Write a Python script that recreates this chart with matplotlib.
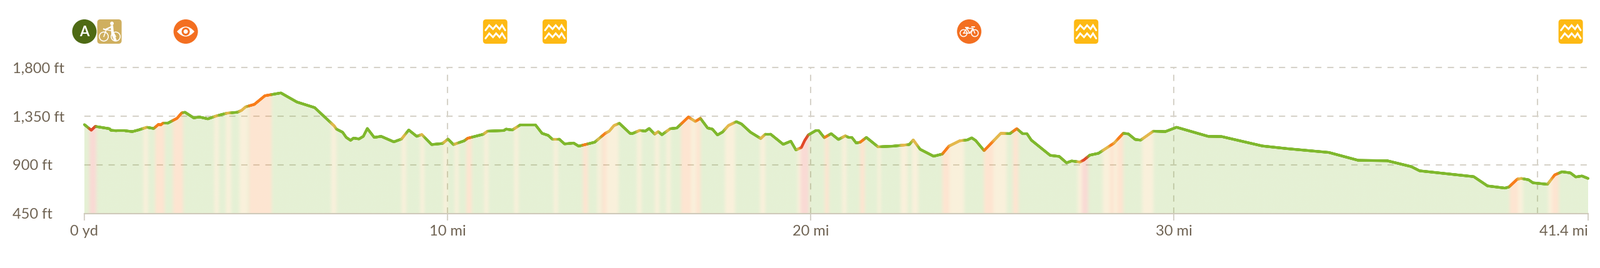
import matplotlib
matplotlib.use('Agg')
import matplotlib.pyplot as plt
import numpy as np
from matplotlib.collections import LineCollection
from matplotlib.colors import to_rgb
from matplotlib.patches import Circle, FancyBboxPatch, PathPatch
from matplotlib.path import Path

plt.rcParams['font.family'] = ['Lato', 'DejaVu Sans']
plt.rcParams['lines.scale_dashes'] = False

# elevation profile, distance in miles and elevation in feet
distance = [0.00, 0.19, 0.30, 0.52, 0.69, 0.73, 0.89, 1.12, 1.32, 1.49, 1.72, 1.91, 2.04, 2.10, 2.16, 2.29,
            2.55, 2.68, 2.77, 3.01, 3.17, 3.40, 3.64, 3.93, 4.21, 4.33, 4.44, 4.68, 4.97, 5.19, 5.41, 5.85,
            6.34, 6.88, 6.94, 7.11, 7.21, 7.33, 7.41, 7.56, 7.68, 7.79, 7.98, 8.17, 8.52, 8.73, 8.93, 9.15,
            9.29, 9.56, 9.86, 10.01, 10.16, 10.46, 10.55, 10.98, 11.10, 11.55, 11.61, 11.78, 12.00, 12.42,
            12.60, 12.77, 12.88, 13.07, 13.22, 13.47, 13.61, 14.05, 14.34, 14.45, 14.58, 14.73, 15.02, 15.08,
            15.29, 15.44, 15.55, 15.70, 15.80, 15.90, 16.13, 16.31, 16.63, 16.82, 16.96, 17.16, 17.29, 17.43,
            17.57, 17.73, 17.95, 18.09, 18.34, 18.62, 18.75, 18.89, 19.24, 19.45, 19.59, 19.74, 19.83, 19.93,
            20.13, 20.22, 20.37, 20.56, 20.76, 20.95, 21.04, 21.13, 21.25, 21.36, 21.53, 21.85, 22.25, 22.71,
            22.82, 23.01, 23.38, 23.62, 23.80, 24.10, 24.31, 24.43, 24.54, 24.77, 25.23, 25.48, 25.67, 25.83,
            25.95, 26.07, 26.59, 26.84, 27.04, 27.18, 27.41, 27.52, 27.68, 27.92, 28.35, 28.60, 28.74, 28.93,
            29.08, 29.43, 29.76, 30.07, 30.94, 31.31, 32.43, 33.12, 34.26, 35.07, 35.87, 36.53, 36.76, 38.25,
            38.63, 39.11, 39.22, 39.45, 39.56, 39.76, 39.88, 40.28, 40.48, 40.68, 40.91, 41.06, 41.23, 41.40]
elevation = [1273, 1221, 1256, 1244, 1235, 1220, 1216, 1216, 1208, 1223, 1248, 1237, 1275, 1270, 1285, 1285,
             1331, 1381, 1387, 1335, 1343, 1326, 1354, 1379, 1387, 1405, 1437, 1460, 1540, 1553, 1566, 1482,
             1430, 1260, 1231, 1202, 1154, 1127, 1148, 1140, 1164, 1237, 1154, 1164, 1113, 1139, 1223, 1164,
             1181, 1088, 1098, 1139, 1088, 1123, 1146, 1183, 1212, 1218, 1231, 1223, 1270, 1270,
             1192, 1173, 1139, 1139, 1094, 1102, 1073, 1110, 1192, 1212, 1264, 1285, 1192, 1189,
             1219, 1212, 1237, 1185, 1208, 1179, 1235, 1241, 1343, 1302, 1331, 1241, 1231, 1177,
             1204, 1264, 1300, 1279, 1202, 1144, 1185, 1185, 1090, 1119, 1038, 1061, 1125, 1177,
             1216, 1216, 1152, 1189, 1135, 1169, 1154, 1154, 1102, 1110, 1154, 1067, 1073, 1088,
             1131, 1044, 980, 1000, 1073, 1123, 1131, 1150, 1125, 1032, 1192, 1189, 1235, 1189,
             1189, 1129, 988, 978, 919, 936, 926, 946, 990, 1007, 1102, 1192, 1187, 1135,
             1129, 1212, 1208, 1248, 1164, 1162, 1075, 1050, 1015, 942, 938, 884, 845, 791,
             705, 685, 695, 768, 774, 762, 734, 720, 807, 836, 826, 788, 797, 774]

# stretches that are not flat: 1 moderate, 2 steep, 3 very steep
band_start = [0.14, 1.63, 1.95, 2.44, 3.58, 3.90, 4.27, 4.53, 4.85, 6.80, 8.74, 9.25, 9.89, 10.20, 10.52, 11.01,
              11.84, 12.93, 13.73, 14.13, 14.25, 14.38, 15.22, 15.71, 16.03, 16.43, 16.71, 16.85, 17.64, 18.61,
              19.64, 19.72, 20.39, 20.87, 21.36, 21.85, 22.48, 22.79, 23.63, 23.82, 24.77, 25.03, 25.57, 27.35,
              27.47, 28.04, 28.24, 28.35, 28.44, 29.13, 39.25, 39.48, 40.31, 40.42]
band_end = [0.33, 1.75, 2.21, 2.72, 3.70, 4.04, 4.50, 4.85, 5.16, 6.94, 8.86, 9.36, 10.00, 10.30, 10.67, 11.12,
            11.95, 13.04, 13.87, 14.22, 14.38, 14.71, 15.34, 15.83, 16.14, 16.71, 16.85, 16.97, 17.92, 18.75,
            19.72, 19.95, 20.50, 20.99, 21.49, 21.93, 22.67, 22.96, 23.82, 24.23, 25.03, 25.40, 25.72, 27.47,
            27.64, 28.24, 28.35, 28.44, 28.61, 29.44, 39.48, 39.62, 40.42, 40.60]
band_grade = [3, 1, 2, 2, 1, 1, 1, 2, 2, 1, 1, 1, 1, 1, 2, 1,
              1, 1, 2, 1, 2, 1, 1, 1, 1, 2, 1, 2, 1, 1,
              1, 3, 2, 1, 2, 1, 1, 1, 2, 1, 2, 1, 2, 1,
              3, 1, 2, 1, 2, 1, 2, 1, 1, 2]
grade_colors = ['#7FB82D', '#E4B84C', '#F97D1A', '#E2482A']

y_ticks = [450, 900, 1350, 1800]
y_labels = ['450 ft', '900 ft', '1,350 ft', '1,800 ft']
x_ticks = [0, 10, 20, 30, 41.4]
x_labels = ['0 yd', '10 mi', '20 mi', '30 mi', '41.4 mi']
x_grid = [10, 20, 30, 40]

# points of interest along the trail
icon_names = ['start', 'trail', 'view', 'water', 'water', 'bike', 'water', 'water']
icon_miles = [0.0, 0.69, 2.79, 11.31, 12.95, 24.36, 27.58, 40.92]

TEXT = '#6F6353'
GRID = '#D6D2C9'

fig = plt.figure(figsize=(25.6, 4.29), dpi=100)
ax = fig.add_axes([135 / 2560, 1 - 341.7 / 429, 2406 / 2560, 233.4 / 429])
ax.set_xlim(0, 41.4)
ax.set_ylim(450, 1800)

# grid sits under the see-through fill
dash = (0, (7.2, 6.7))
ax.hlines(y_ticks[1:], 0, 41.4, colors=GRID, linewidth=1.5, linestyles=[dash], zorder=1, clip_on=False)
ax.vlines(x_grid, 450, 1800, colors=GRID, linewidth=1.5, linestyles=[dash], zorder=1)

# colour along the distance
xs = np.arange(0, 41.41, 0.01)
rgb = np.tile(to_rgb(grade_colors[0]), (len(xs), 1))
for start, end, grade in zip(band_start, band_end, band_grade):
    rgb[(xs >= start) & (xs < end)] = to_rgb(grade_colors[grade])


def blend(colors, width):
    # smooth so the stretches run into each other
    kernel = np.hanning(width)
    kernel = kernel / kernel.sum()
    padded = np.pad(colors, ((width // 2, width // 2), (0, 0)), mode='edge')
    return np.column_stack([np.convolve(padded[:, i], kernel, mode='valid') for i in range(3)])


line_rgb = blend(rgb, 15)
fill_rgb = blend(rgb, 23)

# area under the line
area = ax.fill_between(distance, elevation, 450, facecolor='none', edgecolor='none')
rgba = np.dstack([fill_rgb[np.newaxis, :, :], np.full((1, len(xs), 1), 0.2)])
img = ax.imshow(rgba, extent=(0, 41.4, 450, 1800), aspect='auto', interpolation='bilinear', zorder=2)
img.set_clip_path(area.get_paths()[0], transform=ax.transData)

# profile line, cut into short pieces to carry the colour
line_x = np.union1d(xs, distance)
line_y = np.interp(line_x, distance, elevation)
points = np.column_stack([line_x, line_y]).reshape(-1, 1, 2)
segments = np.concatenate([points[:-1], points[1:]], axis=1)
seg_colors = line_rgb[np.clip(np.searchsorted(xs, line_x[:-1]), 0, len(xs) - 1)]
lc = LineCollection(segments, colors=seg_colors, linewidths=3.0, capstyle='round', zorder=3)
lc.set_clip_on(False)
ax.add_collection(lc)

# axes
for side in ['top', 'left', 'right']:
    ax.spines[side].set_visible(False)
ax.spines['bottom'].set_color('#CFCABA')
ax.spines['bottom'].set_linewidth(1.5)
ax.spines['bottom'].set_zorder(4)
ax.set_xticks(x_ticks, x_labels)
ax.set_yticks(y_ticks, y_labels)
ax.tick_params(axis='x', length=8, width=1.5, color=GRID, labelsize=17, labelcolor=TEXT, pad=5)
ax.tick_params(axis='y', length=0, labelsize=17, labelcolor=TEXT, pad=83)
for label in ax.get_yticklabels():
    label.set_ha('left')
ax.get_xticklabels()[-1].set_ha('right')

# icons live on an overlay measured in pixels, placed from the mile values
over = fig.add_axes([0, 0, 1, 1], facecolor='none')
over.set_xlim(0, 2560)
over.set_ylim(429, 0)
over.axis('off')
CY = 50.5


def draw_wheel(cx, cy, r, lw=1.1):
    over.add_patch(Circle((cx, cy), r, facecolor='none', edgecolor='white', linewidth=lw))


def draw_icon(name, cx):
    if name == 'start':
        over.add_patch(Circle((cx, CY), 19.5, facecolor='#4E6A14', edgecolor='none'))
        over.text(cx, CY + 0.5, 'A', color='white', fontsize=16, fontweight='bold', ha='center', va='center')
    elif name == 'view':
        over.add_patch(Circle((cx, CY), 19.5, facecolor='#F36F21', edgecolor='none'))
        lens = Path([(cx - 14, CY), (cx, CY - 16), (cx + 14, CY), (cx, CY + 16), (cx - 14, CY)],
                    [Path.MOVETO, Path.CURVE3, Path.CURVE3, Path.CURVE3, Path.CURVE3])
        over.add_patch(PathPatch(lens, facecolor='white', edgecolor='none'))
        over.add_patch(Circle((cx, CY), 5, facecolor='white', edgecolor='#F36F21', linewidth=2.2))
    elif name == 'bike':
        over.add_patch(Circle((cx, CY), 19.5, facecolor='#F36F21', edgecolor='none'))
        draw_wheel(cx - 9, CY + 2.5, 5.5)
        draw_wheel(cx + 9, CY + 2.5, 5.5)
        over.plot([cx - 9, cx - 4, cx + 6, cx + 9], [CY + 2.5, CY - 5, CY - 5, CY + 2.5], color='white', lw=1.1)
        over.plot([cx - 9, cx + 1, cx + 6], [CY + 2.5, CY + 2.5, CY - 5], color='white', lw=1.1)
        over.plot([cx - 4, cx + 1], [CY - 5, CY + 2.5], color='white', lw=1.1)
        over.plot([cx - 6, cx - 2], [CY - 7, CY - 7], color='white', lw=1.3)
        over.plot([cx + 4, cx + 8], [CY - 7.5, CY - 7.5], color='white', lw=1.3)
    elif name == 'trail':
        over.add_patch(FancyBboxPatch((cx - 16.5, CY - 16.5), 33, 33, boxstyle='round,pad=3,rounding_size=5',
                                      facecolor='#CFAF5F', edgecolor='none'))
        draw_wheel(cx - 9, CY + 8, 7.2)
        draw_wheel(cx + 10, CY + 8, 7.2)
        over.add_patch(Circle((cx + 4, CY - 13), 2.9, facecolor='white', edgecolor='none'))
        over.plot([cx + 4, cx + 5, cx + 9], [CY - 8, CY + 3, CY + 13], color='white', lw=3)
        over.plot([cx + 4, cx - 7, cx - 9], [CY - 8, CY - 3, CY - 4], color='white', lw=1.6)
        over.plot([cx - 9, cx - 5, cx + 5, cx + 10], [CY + 8, CY - 3, CY - 1, CY + 8], color='white', lw=1.1)
    elif name == 'water':
        over.add_patch(FancyBboxPatch((cx - 16.5, CY - 16.5), 33, 33, boxstyle='round,pad=3,rounding_size=5',
                                      facecolor='#FDB913', edgecolor='none'))
        wave_x = [-15.5, -9.5, -3.5, 1.5, 7, 11, 16]
        wave_y = [-2, -10, -4, -10, -4, -10, -2]
        for shift in [0, 13]:
            over.plot([cx + v for v in wave_x], [CY + v + shift for v in wave_y], color='white', lw=2.1,
                      solid_capstyle='round', solid_joinstyle='miter')


for name, mile in zip(icon_names, icon_miles):
    draw_icon(name, 135 + mile * 2406 / 41.4)

fig.savefig('out.png', dpi=100)
